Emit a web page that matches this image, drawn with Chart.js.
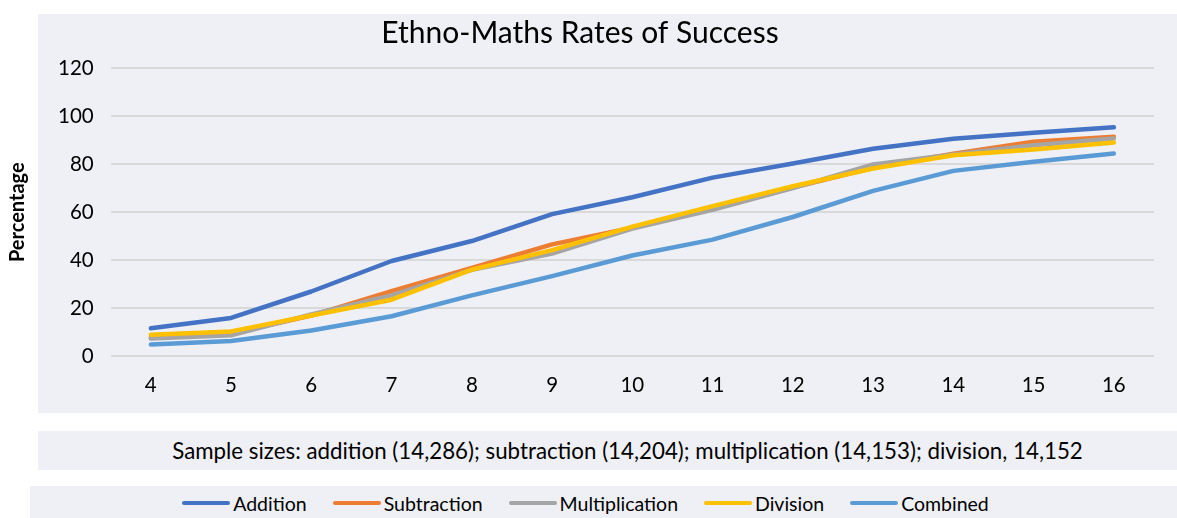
<!DOCTYPE html>
<html>
<head>
<meta charset="utf-8">
<script src="https://cdn.jsdelivr.net/npm/chart.js@4/dist/chart.umd.min.js"></script>
<style>
  body { margin: 0; background: #ffffff; font-family: Lato, sans-serif; }
  #wrap { position: relative; width: 1177px; height: 518px; overflow: hidden; }
  #chartBox { position: absolute; left: 0; top: 0; width: 1177px; height: 413px; }
  .band { position: absolute; background: #eff0f5; box-sizing: border-box; }
  #sample { left: 38px; top: 431px; width: 1139px; height: 39px; line-height: 39px;
            text-align: center; font-size: 22.3px; color: #000; padding-left: 40px; }
  #legend { left: 30px; top: 486px; width: 1147px; height: 32px; display: flex;
            align-items: center; justify-content: center; font-size: 19.5px; color: #000;
            padding-right: 36px; padding-top: 2px; }
  .item { display: flex; align-items: center; margin: 0 13px; }
  .swatch { width: 48px; height: 4.5px; border-radius: 2px; margin-right: 3px; }
</style>
</head>
<body>
<div id="wrap">
  <div id="chartBox"><canvas id="lineChart"></canvas></div>
  <div class="band" id="sample"></div>
  <div class="band" id="legend"></div>
</div>
<script>
// Edades (eje x) y porcentajes
const ages = ['4', '5', '6', '7', '8', '9', '10', '11', '12', '13', '14', '15', '16'];
const seriesNames = ['Addition', 'Subtraction', 'Multiplication', 'Division', 'Combined'];
const seriesColors = ['#4472c4', '#ed7d31', '#a5a5a5', '#ffc000', '#5b9bd5'];

const addition       = [11.7, 16, 27, 39.7, 48, 59.2, 66.2, 74.4, 80.3, 86.4, 90.6, 93.1, 95.3];
const subtraction    = [7.8, 9.5, 17, 27.2, 36.8, 46.6, 53.5, 61.5, 70.2, 78.5, 84.3, 89.3, 91.4];
const multiplication = [7.4, 8.8, 17.5, 25.4, 36, 42.8, 53.2, 61, 70, 79.9, 84, 87.9, 90.7];
const division       = [9, 10.4, 17, 23.6, 36.1, 44.2, 54, 62.5, 70.8, 78.2, 83.7, 86.1, 89];
const combined       = [5, 6.4, 10.8, 16.7, 25.4, 33.4, 42, 48.6, 58, 68.9, 77.2, 81, 84.4];

const yTicks = [0, 20, 40, 60, 80, 100, 120];
const titleText = 'Ethno-Maths Rates of Success';
const yTitle = 'Percentage';
const sampleText = 'Sample sizes: addition (14,286); subtraction (14,204); multiplication (14,153); division, 14,152';

const allSeries = [addition, subtraction, multiplication, division, combined];

document.getElementById('sample').textContent = sampleText;

// Leyenda propia en su recuadro
const legendEl = document.getElementById('legend');
seriesNames.forEach(function(name, i) {
    const item = document.createElement('div');
    item.className = 'item';
    const sw = document.createElement('span');
    sw.className = 'swatch';
    sw.style.background = seriesColors[i];
    const tx = document.createElement('span');
    tx.textContent = name;
    item.appendChild(sw);
    item.appendChild(tx);
    legendEl.appendChild(item);
});

// Fondo gris del panel del gráfico (empieza en x=38)
const panelBg = {
    id: 'panelBg',
    beforeDraw: function(chart) {
        const c = chart.ctx;
        c.save();
        c.fillStyle = '#eff0f5';
        c.fillRect(38, 14, chart.width - 38, chart.height - 14);
        c.restore();
    }
};

const ctx = document.getElementById('lineChart').getContext('2d');

const lineChart = new Chart(ctx, {
    type: 'line',
    data: {
        labels: ages,
        datasets: allSeries.map(function(values, i) {
            return {
                label: seriesNames[i],
                data: values,
                borderColor: seriesColors[i],
                backgroundColor: seriesColors[i],
                borderWidth: 4.5,
                pointRadius: 0,
                tension: 0,
                borderCapStyle: 'round',
                borderJoinStyle: 'round',
                order: allSeries.length - i // la última serie queda encima, como en Excel
            };
        })
    },
    options: {
        responsive: true,
        maintainAspectRatio: false,
        animation: false,
        layout: { padding: { left: 6, right: 23, top: 12, bottom: -2 } },
        plugins: {
            legend: { display: false },
            tooltip: { enabled: false },
            title: {
                display: true,
                text: titleText,
                color: '#000',
                font: { family: 'Lato', size: 30, weight: 'normal' },
                padding: { top: 3, bottom: 17 }
            }
        },
        scales: {
            x: {
                offset: true,
                border: { display: false },
                grid: { display: false, drawTicks: false },
                ticks: {
                    color: '#000',
                    padding: 17,
                    font: { family: 'Lato', size: 20.5 }
                }
            },
            y: {
                min: 0,
                max: 120,
                border: { display: false },
                grid: { color: '#d9d9d9', lineWidth: 2, drawTicks: false },
                afterBuildTicks: function(axis) {
                    axis.ticks = yTicks.map(function(v) { return { value: v }; });
                },
                ticks: {
                    color: '#000',
                    padding: 17,
                    font: { family: 'Lato', size: 20.5 }
                },
                title: {
                    display: true,
                    text: yTitle,
                    color: '#000',
                    font: { family: 'Lato', size: 20, weight: 'bold' },
                    padding: { top: 0, bottom: 11 }
                }
            }
        }
    },
    plugins: [panelBg]
});
</script>
</body>
</html>
